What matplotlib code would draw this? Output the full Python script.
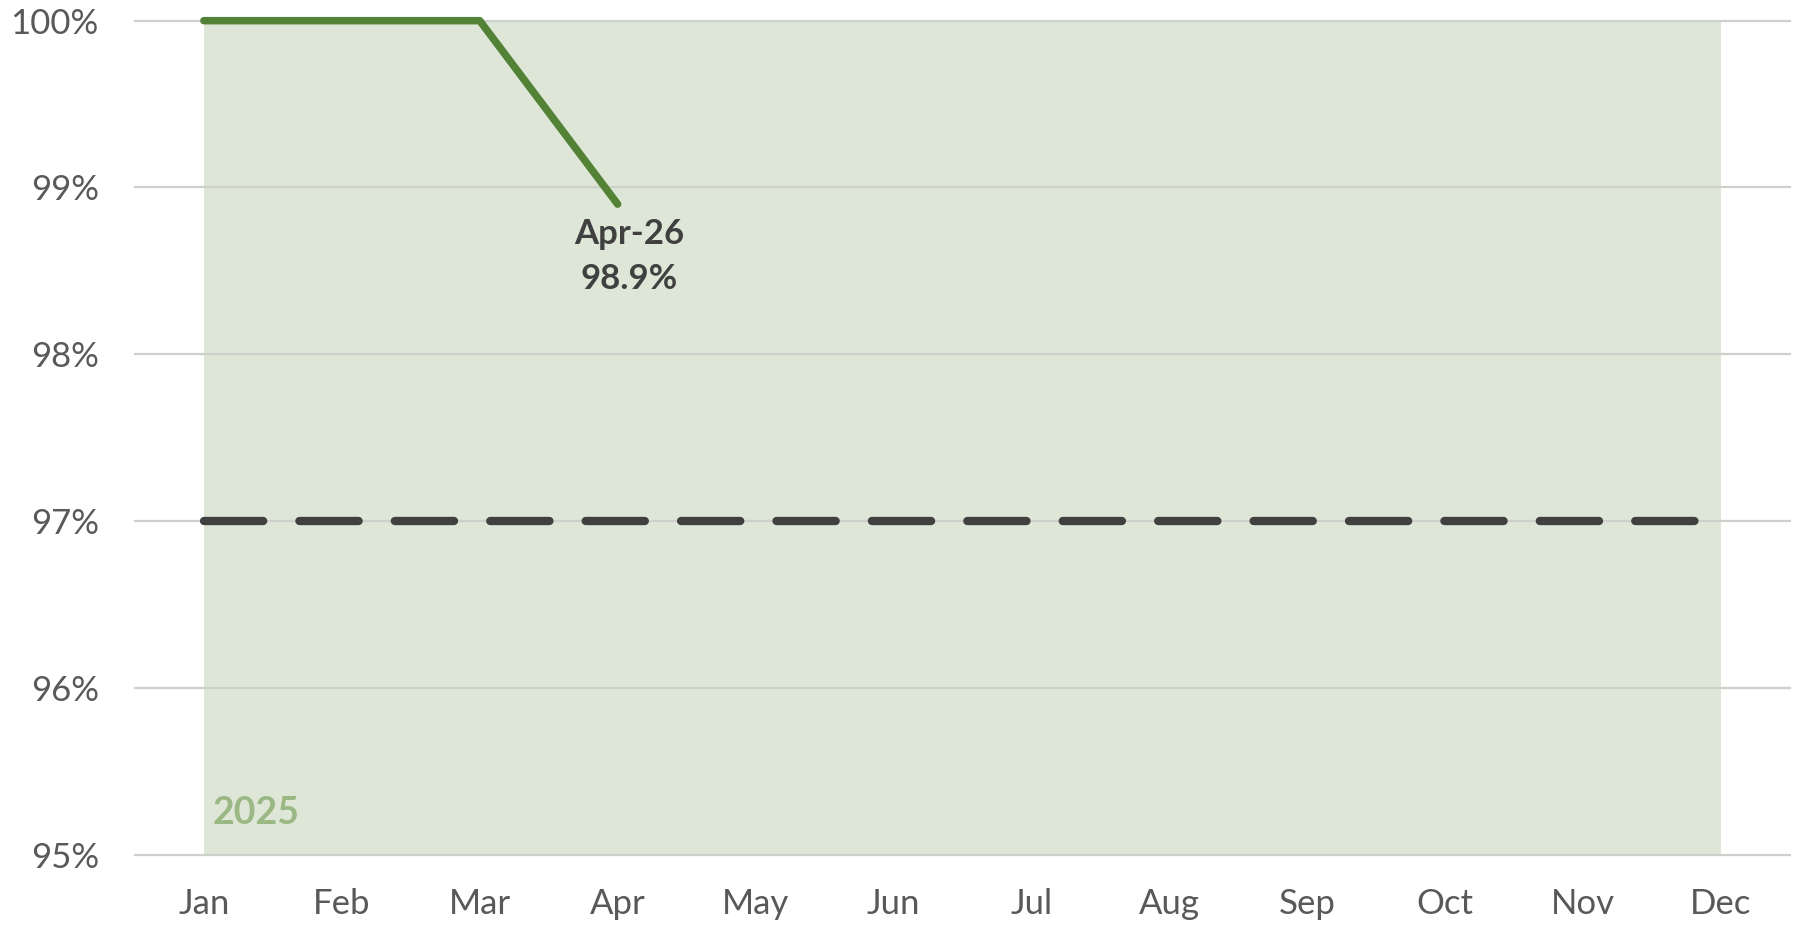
import matplotlib.pyplot as plt

plt.rcParams['font.family'] = ['Lato', 'DejaVu Sans']

# Monthly compliance rate for 2025 against the 97% target
months = ['Jan', 'Feb', 'Mar', 'Apr', 'May', 'Jun',
          'Jul', 'Aug', 'Sep', 'Oct', 'Nov', 'Dec']
rate = [100.0, 100.0, 100.0, 98.9]
target = 97.0
y_ticks = [95, 96, 97, 98, 99, 100]
last_label = 'Apr-26'
year_label = '2025'

fig = plt.figure(figsize=(17.99, 9.27), dpi=100)
ax = fig.add_axes([0.075, 0.078, 0.92, 0.8997])

x_all = list(range(len(months)))
x_rate = x_all[:len(rate)]

# shaded year band
ax.axvspan(x_all[0], x_all[-1], color='#dee6d7', lw=0, zorder=0)

for y in y_ticks:
    ax.axhline(y, color='#cdd0cb', lw=1.6, zorder=1, clip_on=False)

# target line
ax.plot([x_all[0], x_all[-1]], [target, target], color='#404040', lw=6,
        dashes=(7.1, 4.35), dash_capstyle='round', zorder=2)

# actual rate
ax.plot(x_rate, rate, color='#538135', lw=5.4, solid_capstyle='round',
        solid_joinstyle='round', zorder=3, clip_on=False)

ax.annotate(f'{last_label}\n{rate[-1]:.1f}%', xy=(x_rate[-1], rate[-1]),
            xytext=(8, -10), textcoords='offset points', ha='center', va='top',
            fontsize=25, fontweight='bold', color='#404040', linespacing=1.5)

ax.text(x_all[0] + 0.06, 95.15, year_label, fontsize=27, fontweight='bold',
        color='#9ab884', ha='left', va='bottom')

ax.set_xlim(-0.5, 11.5)
ax.set_ylim(95, 100)
ax.set_xticks(x_all)
ax.set_xticklabels(months)
ax.set_yticks(y_ticks)
ax.set_yticklabels([f'{v}%' for v in y_ticks])
ax.tick_params(length=0, labelsize=25, labelcolor='#595959')
ax.tick_params(axis='x', pad=24)
ax.tick_params(axis='y', pad=26)
for s in ax.spines.values():
    s.set_visible(False)

fig.savefig('out.png', dpi=100)
